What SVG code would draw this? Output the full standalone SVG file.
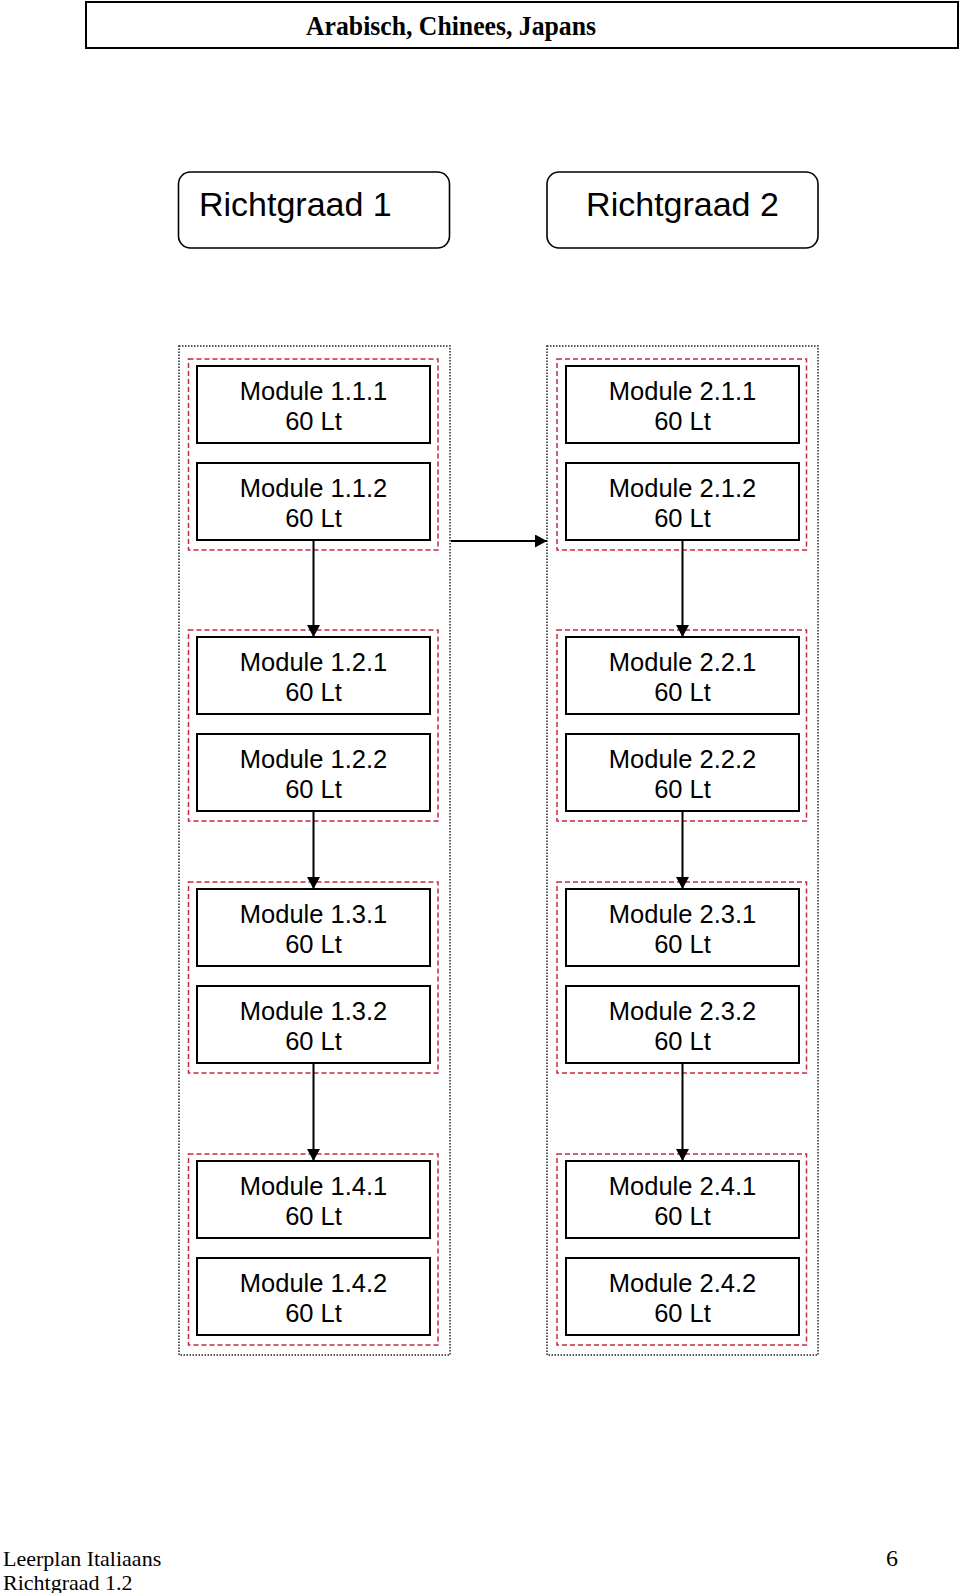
<svg xmlns="http://www.w3.org/2000/svg" width="960" height="1593" viewBox="0 0 960 1593">
<style>
.mod{fill:#fff;stroke:#000;stroke-width:2}
.mt{font-family:"Liberation Sans",Arial,sans-serif;font-size:25.5px;text-anchor:middle;fill:#000}
.rg{fill:#fff;stroke:#000;stroke-width:1.6}
.rt{font-family:"Liberation Sans",Arial,sans-serif;font-size:34px;fill:#000}
.grp{fill:none;stroke:#c8283f;stroke-width:1.5;stroke-dasharray:5 3}
.col{fill:none;stroke:#222;stroke-width:1.5;stroke-dasharray:1.5 1.5}
.conn{fill:none;stroke:#000;stroke-width:2}
.serif{font-family:"Liberation Serif","Times New Roman",serif;fill:#000}
</style>
<defs>
<marker id="arr" markerUnits="userSpaceOnUse" markerWidth="13" markerHeight="13" refX="12" refY="6.5" orient="auto">
<path d="M0,0 L12,6.5 L0,13 Z" fill="#000"/>
</marker>
</defs>
<rect width="960" height="1593" fill="#fff"/>
<g id="header">
<rect x="86" y="2" width="872" height="46" fill="#fff" stroke="#000" stroke-width="2"/>
<text class="serif" x="451" y="35" font-size="28" font-weight="bold" text-anchor="middle" textLength="290" lengthAdjust="spacingAndGlyphs">Arabisch, Chinees, Japans</text>
</g>
<g id="richtgraad1">
<rect class="rg" x="178.5" y="172" width="271" height="76" rx="12"/>
<text class="rt" x="199" y="216">Richtgraad 1</text>
</g>
<g id="richtgraad2">
<rect class="rg" x="547" y="172" width="271" height="76" rx="12"/>
<text class="rt" x="682.5" y="216" text-anchor="middle">Richtgraad 2</text>
</g>
<g id="column1"><rect class="col" x="179" y="346" width="271" height="1009"/></g>
<g id="column2"><rect class="col" x="547" y="346" width="271" height="1009"/></g>
<g id="group1-1"><rect class="grp" x="188.5" y="359" width="249.5" height="191"/></g>
<g id="group1-2"><rect class="grp" x="188.5" y="630" width="249.5" height="191"/></g>
<g id="group1-3"><rect class="grp" x="188.5" y="882" width="249.5" height="191"/></g>
<g id="group1-4"><rect class="grp" x="188.5" y="1154" width="249.5" height="191"/></g>
<g id="group2-1"><rect class="grp" x="557" y="359" width="249.5" height="191"/></g>
<g id="group2-2"><rect class="grp" x="557" y="630" width="249.5" height="191"/></g>
<g id="group2-3"><rect class="grp" x="557" y="882" width="249.5" height="191"/></g>
<g id="group2-4"><rect class="grp" x="557" y="1154" width="249.5" height="191"/></g>

<g id="m111"><rect class="mod" x="197" y="366" width="233" height="77"/><text class="mt" x="313.5" y="399.5">Module 1.1.1</text><text class="mt" x="313.5" y="429.5">60 Lt</text></g>
<g id="m112"><rect class="mod" x="197" y="463" width="233" height="77"/><text class="mt" x="313.5" y="496.5">Module 1.1.2</text><text class="mt" x="313.5" y="526.5">60 Lt</text></g>
<g id="m121"><rect class="mod" x="197" y="637" width="233" height="77"/><text class="mt" x="313.5" y="670.5">Module 1.2.1</text><text class="mt" x="313.5" y="700.5">60 Lt</text></g>
<g id="m122"><rect class="mod" x="197" y="734" width="233" height="77"/><text class="mt" x="313.5" y="767.5">Module 1.2.2</text><text class="mt" x="313.5" y="797.5">60 Lt</text></g>
<g id="m131"><rect class="mod" x="197" y="889" width="233" height="77"/><text class="mt" x="313.5" y="922.5">Module 1.3.1</text><text class="mt" x="313.5" y="952.5">60 Lt</text></g>
<g id="m132"><rect class="mod" x="197" y="986" width="233" height="77"/><text class="mt" x="313.5" y="1019.5">Module 1.3.2</text><text class="mt" x="313.5" y="1049.5">60 Lt</text></g>
<g id="m141"><rect class="mod" x="197" y="1161" width="233" height="77"/><text class="mt" x="313.5" y="1194.5">Module 1.4.1</text><text class="mt" x="313.5" y="1224.5">60 Lt</text></g>
<g id="m142"><rect class="mod" x="197" y="1258" width="233" height="77"/><text class="mt" x="313.5" y="1291.5">Module 1.4.2</text><text class="mt" x="313.5" y="1321.5">60 Lt</text></g>

<g id="m211"><rect class="mod" x="566" y="366" width="233" height="77"/><text class="mt" x="682.5" y="399.5">Module 2.1.1</text><text class="mt" x="682.5" y="429.5">60 Lt</text></g>
<g id="m212"><rect class="mod" x="566" y="463" width="233" height="77"/><text class="mt" x="682.5" y="496.5">Module 2.1.2</text><text class="mt" x="682.5" y="526.5">60 Lt</text></g>
<g id="m221"><rect class="mod" x="566" y="637" width="233" height="77"/><text class="mt" x="682.5" y="670.5">Module 2.2.1</text><text class="mt" x="682.5" y="700.5">60 Lt</text></g>
<g id="m222"><rect class="mod" x="566" y="734" width="233" height="77"/><text class="mt" x="682.5" y="767.5">Module 2.2.2</text><text class="mt" x="682.5" y="797.5">60 Lt</text></g>
<g id="m231"><rect class="mod" x="566" y="889" width="233" height="77"/><text class="mt" x="682.5" y="922.5">Module 2.3.1</text><text class="mt" x="682.5" y="952.5">60 Lt</text></g>
<g id="m232"><rect class="mod" x="566" y="986" width="233" height="77"/><text class="mt" x="682.5" y="1019.5">Module 2.3.2</text><text class="mt" x="682.5" y="1049.5">60 Lt</text></g>
<g id="m241"><rect class="mod" x="566" y="1161" width="233" height="77"/><text class="mt" x="682.5" y="1194.5">Module 2.4.1</text><text class="mt" x="682.5" y="1224.5">60 Lt</text></g>
<g id="m242"><rect class="mod" x="566" y="1258" width="233" height="77"/><text class="mt" x="682.5" y="1291.5">Module 2.4.2</text><text class="mt" x="682.5" y="1321.5">60 Lt</text></g>

<g id="connectors">
<line class="conn" x1="451" y1="541" x2="547" y2="541" marker-end="url(#arr)"/>
<line class="conn" x1="313.5" y1="541" x2="313.5" y2="637" marker-end="url(#arr)"/>
<line class="conn" x1="313.5" y1="812" x2="313.5" y2="889" marker-end="url(#arr)"/>
<line class="conn" x1="313.5" y1="1064" x2="313.5" y2="1161" marker-end="url(#arr)"/>
<line class="conn" x1="682.5" y1="541" x2="682.5" y2="637" marker-end="url(#arr)"/>
<line class="conn" x1="682.5" y1="812" x2="682.5" y2="889" marker-end="url(#arr)"/>
<line class="conn" x1="682.5" y1="1064" x2="682.5" y2="1161" marker-end="url(#arr)"/>
</g>
<g id="footer">
<text class="serif" x="3" y="1566" font-size="22">Leerplan Italiaans</text>
<text class="serif" x="3" y="1590" font-size="22">Richtgraad 1.2</text>
<text class="serif" x="892" y="1566" font-size="24" text-anchor="middle">6</text>
</g>
</svg>
